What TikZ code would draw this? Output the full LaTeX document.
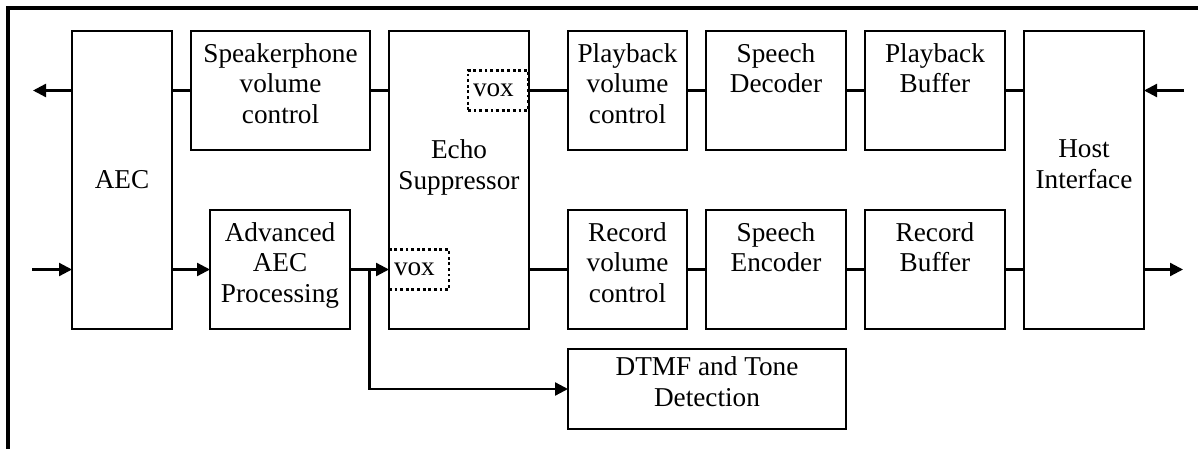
\documentclass[tikz,border=0pt]{standalone}
\usepackage{fontspec}
\setmainfont{Liberation Serif}
\usepackage{tikz}
\usetikzlibrary{arrows.meta,positioning,calc}
\tikzset{
    block/.style={rectangle, draw, line width=1.1pt, align=center, inner sep=0pt, outer sep=0pt, font=\fontsize{15.5}{17.6}\selectfont},
    tall/.style={minimum width=2.8cm, minimum height=5.96cm},
    unit/.style={minimum width=2.8cm, minimum height=2.38cm, execute at end node={\rule[-0.28cm]{0pt}{0pt}}},
    vox/.style={rectangle, draw, line width=1.3pt, dash pattern=on 1.6pt off 1.6pt, text width=1.0cm, align=left, inner sep=0.1cm, outer sep=0pt, minimum height=0.8cm, font=\fontsize{15.5}{17.6}\selectfont},
    line/.style={draw, line width=1.3pt},
    arrow/.style={draw, line width=1.3pt, -{Triangle[length=0.26cm, width=0.26cm]}},
    frame/.style={draw, line width=2pt}
}

\begin{document}
\begin{tikzpicture}
    \useasboundingbox (0,0) rectangle (23.96,-8.98);
    % Outer frame (top and left edges only)
    \draw [frame] (0.16,-8.98) -- (0.16,-0.16) -- (23.96,-0.16);

    % Blocks
    \node [block, tall, minimum width=2cm, anchor=north west] (aec) at (1.44,-0.62) {AEC};
    \node [block, unit, minimum width=3.58cm, right=0.38cm of aec.north east, anchor=north west] (spk) {Speakerphone\\volume\\control};
    \node [block, tall, right=0.38cm of spk.north east, anchor=north west] (echo) {Echo\\Suppressor\\~};
    \node [block, unit, right=0.76cm of aec.south east, anchor=south west] (adv) {Advanced\\AEC\\Processing};
    \node [block, unit, minimum width=2.38cm, right=0.78cm of echo.north east, anchor=north west] (pbvol) {Playback\\volume\\control};
    \node [block, unit, minimum width=2.38cm, right=0.78cm of echo.south east, anchor=south west] (recvol) {Record\\volume\\control};
    \node [block, unit, right=0.38cm of pbvol.north east, anchor=north west] (dec) {Speech\\Decoder\\~};
    \node [block, unit, right=0.38cm of recvol.north east, anchor=north west] (enc) {Speech\\Encoder\\~};
    \node [block, unit, right=0.38cm of dec.north east, anchor=north west] (pbbuf) {Playback\\Buffer\\~};
    \node [block, unit, right=0.38cm of enc.north east, anchor=north west] (recbuf) {Record\\Buffer\\~};
    \node [block, tall, minimum width=2.4cm, right=0.38cm of pbbuf.north east, anchor=north west] (host) {Host\\Interface\\~};
    \node [block, unit, minimum width=5.56cm, minimum height=1.6cm, below=0.4cm of recvol.south west, anchor=north west] (dtmf) {DTMF and Tone\\Detection};

    % Voice detectors inside the echo suppressor
    \node [vox, anchor=east, xshift=-0.02cm] (voxtop) at (echo.east |- spk.east) {vox};
    \node [vox, anchor=west] (voxbot) at (echo.west |- adv.west) {vox};

    % Outside connections
    \coordinate (spkout) at (0.66,0 |- spk.west);
    \coordinate (micin) at (0.64,0 |- adv.west);
    \coordinate (hostin) at (23.68,0 |- pbbuf.east);
    \coordinate (hostout) at (23.66,0 |- recbuf.east);
    \path [arrow] (spk.west -| aec.west) -- (spkout);
    \path [arrow] (micin) -- (adv.west -| aec.west);
    \path [arrow] (hostin) -- (hostin -| host.east);
    \path [arrow] (recbuf.east -| host.east) -- (hostout);

    % Playback path
    \path [line] (spk.west -| aec.east) -- (spk.west);
    \path [line] (spk.east) -- (spk.east -| echo.west);
    \path [line] (voxtop.east) -- (pbvol.west);
    \path [line] (pbvol.east) -- (dec.west);
    \path [line] (dec.east) -- (pbbuf.west);
    \path [line] (pbbuf.east) -- (pbbuf.east -| host.west);

    % Record path
    \path [arrow] (adv.west -| aec.east) -- (adv.west);
    \path [arrow] (adv.east) -- (voxbot.west);
    \path [line] (recvol.west -| echo.east) -- (recvol.west);
    \path [line] (recvol.east) -- (enc.west);
    \path [line] (enc.east) -- (recbuf.west);
    \path [line] (recbuf.east) -- (recbuf.east -| host.west);

    % Tone detection branch
    \coordinate (tap) at ($(adv.east)!0.5!(adv.east -| echo.west)$);
    \path [arrow] (tap) |- (dtmf.west);
\end{tikzpicture}
\end{document}
